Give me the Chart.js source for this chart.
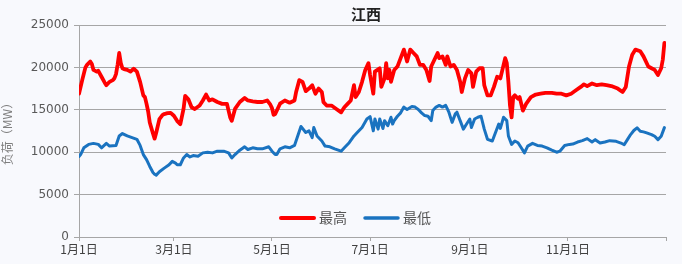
<!DOCTYPE html>
<html><head><meta charset="utf-8">
<script src="https://cdn.jsdelivr.net/npm/chart.js@4"></script>
<style>html,body{margin:0;padding:0;background:#f8f9fd;}#wrap{width:682px;height:264px;}</style>
</head><body><div id="wrap"><canvas id="c" width="682" height="264"></canvas></div>
<script>
const chartTitle = '江西';
const seriesNames = ['最高', '最低'];
const tickDays = [0, 59, 120, 181, 243, 304, 365];
const tickLabels = ['1月1日', '3月1日', '5月1日', '7月1日', '9月1日', '11月1日', ''];

const redDays = [0,2,4,5,7,8,9,11,12,14,16,17,19,21,22,23,24,25,26,27,28,30,32,34,36,38,40,41,42,43,44,46,47,48,50,52,53,55,57,59,60,61,63,65,66,68,70,72,75,77,79,81,83,86,89,92,94,95,97,100,103,105,108,111,114,117,119,120,121,122,125,128,131,134,135,137,139,141,143,145,147,149,151,152,154,157,160,163,165,167,169,171,172,174,176,178,180,181,183,184,187,188,190,191,192,193,194,196,198,200,202,204,206,208,210,212,214,216,218,219,221,223,224,226,228,229,231,233,235,237,238,240,242,244,245,247,249,251,252,254,256,258,260,262,263,265,266,267,268,269,270,271,273,274,276,278,281,284,287,290,294,297,300,303,306,309,312,314,316,319,322,325,328,331,335,338,340,342,344,346,349,351,354,356,358,360,362,363,364];
const redValues = [16900,18500,20000,20300,20700,20400,19700,19500,19600,18900,18200,17900,18300,18500,18700,19200,20300,21700,20500,19900,19800,19700,19500,19840,19500,18300,16700,16500,15700,14800,13500,12200,11600,12300,13900,14400,14500,14600,14640,14300,14000,13700,13300,15100,16640,16240,15300,15100,15500,16100,16800,16100,16240,15920,15700,15700,14100,13700,15100,15920,16400,16100,16000,15920,15920,16100,15600,15200,14400,14500,15720,16100,15840,16100,17100,18500,18300,17200,17500,17900,16900,17500,17100,15900,15500,15500,15100,14700,15300,15700,16100,17900,16500,17100,18300,19700,20500,19100,16900,19500,19900,17700,18700,20500,18700,19700,18300,19700,20100,21100,22100,20700,22100,21700,21300,20300,20300,19700,18400,20100,20900,21700,21100,21300,20300,21300,20100,20300,19700,18300,17100,18700,19700,19300,17700,19500,19900,19900,17900,16700,16700,17700,18900,18700,19500,21100,20500,18300,15500,14100,16500,16700,16300,16500,14900,15700,16500,16800,16900,17000,17000,16900,16900,16700,16900,17300,17700,18000,17800,18100,17900,18000,17900,17800,17500,17100,17700,20100,21500,22100,21900,21300,20100,19900,19700,19100,19900,20900,22900,23600];

const blueDays = [0,1,3,6,9,12,14,17,19,23,25,27,30,33,36,38,40,42,44,46,47,48,50,53,56,58,60,61,63,65,67,69,71,74,77,80,83,86,90,93,95,97,100,103,105,108,111,114,118,120,122,123,125,128,131,134,136,138,141,143,145,146,148,151,153,156,159,163,165,168,171,173,176,179,181,183,184,186,187,189,190,192,194,195,196,198,200,202,204,207,209,211,213,215,217,219,220,222,224,226,228,230,232,234,235,237,239,241,243,244,246,248,250,252,254,257,259,261,262,264,266,267,269,271,273,275,277,279,282,285,288,291,294,297,299,302,305,307,310,313,316,319,321,324,327,330,334,337,339,341,343,345,347,349,351,353,356,358,360,362,364];
const blueValues = [9500,9720,10520,10920,11040,10920,10520,11040,10720,10800,11920,12200,11920,11720,11520,10800,9720,9120,8320,7600,7400,7300,7700,8120,8520,8920,8720,8520,8520,9320,9720,9440,9600,9520,9920,10000,9920,10120,10120,9920,9320,9720,10240,10640,10320,10520,10400,10400,10640,10120,9720,9720,10400,10640,10520,10800,11920,13040,12320,12520,11720,12920,11920,11320,10720,10640,10400,10120,10520,11120,11920,12320,12920,13920,14200,12520,13920,12720,13920,12800,13720,13120,14120,13320,13720,14240,14640,15320,15040,15400,15320,15040,14640,14320,14240,13720,14920,15320,15520,15320,15520,14720,13520,14520,14720,13720,12720,13320,13920,12920,13920,14120,14240,12720,11520,11320,12320,13320,12800,14120,13720,11920,10920,11320,11120,10520,9920,10720,11040,10800,10720,10520,10240,10000,10120,10800,10920,10960,11200,11360,11600,11200,11480,11080,11200,11360,11280,11080,10880,11480,12080,12560,12880,12480,12400,12280,12080,11880,11480,11880,12900];

const pts = (xs, ys) => xs.map((x, i) => ({x: x, y: ys[i]}));

const legendPlugin = {
  id: 'inlegend',
  afterDraw(chart) {
    const ctx = chart.ctx;
    const items = [{x: 281, w: 4}, {x: 365, w: 3.5}];
    ctx.save();
    ctx.font = '14px "Noto Sans CJK SC"';
    ctx.textBaseline = 'middle';
    ctx.lineCap = 'round';
    items.forEach((it, i) => {
      const ds = chart.data.datasets[i];
      ctx.strokeStyle = ds.borderColor;
      ctx.lineWidth = it.w;
      ctx.beginPath(); ctx.moveTo(it.x, 218); ctx.lineTo(it.x + 33, 218); ctx.stroke();
      ctx.fillStyle = '#555';
      ctx.fillText(ds.label, it.x + 38, 218);
    });
    ctx.font = 'bold 15px "Noto Sans CJK SC"';
    ctx.fillStyle = '#222';
    ctx.textAlign = 'center';
    ctx.fillText(chartTitle, 366, 14);
    ctx.restore();
  }
};

new Chart(document.getElementById('c'), {
  type: 'line',
  data: {
    datasets: [
      {label: seriesNames[0], data: pts(redDays, redValues), borderColor: '#ff0000', borderWidth: 3.8, pointRadius: 0, tension: 0, borderJoinStyle: 'round', borderCapStyle: 'round'},
      {label: seriesNames[1], data: pts(blueDays, blueValues), borderColor: '#1a73c0', borderWidth: 3, pointRadius: 0, tension: 0, borderJoinStyle: 'round', borderCapStyle: 'round'}
    ]
  },
  options: {
    responsive: false,
    animation: false,
    events: [],
    layout: {padding: {top: 25, right: 16, bottom: 0, left: 0}},
    plugins: {legend: {display: false}, title: {display: false}, tooltip: {enabled: false}},
    scales: {
      x: {
        type: 'linear', min: 0, max: 365,
        afterBuildTicks: s => { s.ticks = tickDays.map(v => ({value: v})); },
        afterFit: s => { s.height = 27; },
        ticks: {
          autoSkip: false, maxRotation: 0, padding: 1,
          callback: v => tickLabels[tickDays.indexOf(v)],
          font: {family: '"Noto Sans CJK SC"', size: 12}, color: '#404040'
        },
        grid: {display: true, drawOnChartArea: false, drawTicks: true, tickLength: 4, color: '#a6a6a6'},
        border: {display: true, color: '#a6a6a6'}
      },
      y: {
        min: 0, max: 25000,
        afterFit: s => { s.width = 79; },
        ticks: {stepSize: 5000, padding: 5, callback: v => String(v), font: {family: '"DejaVu Sans"', size: 12}, color: '#595959'},
        grid: {color: '#a6a6a6', tickLength: 5},
        border: {display: true, color: '#a6a6a6'},
        title: {display: true, text: '负荷（MW）', font: {family: '"Noto Sans CJK SC"', size: 12}, color: '#7f7f7f', padding: {top: 0, bottom: 0}}
      }
    }
  },
  plugins: [legendPlugin]
});
</script></body></html>
